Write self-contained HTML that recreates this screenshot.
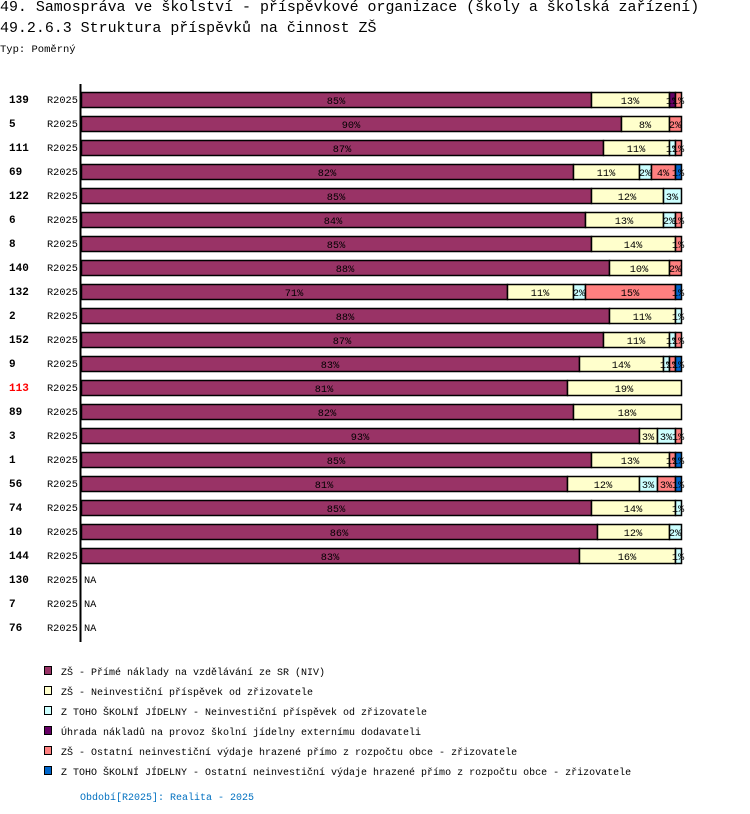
<!DOCTYPE html>
<html><head><meta charset="utf-8"><style>
body{margin:0;background:#fff;width:750px;height:814px;overflow:hidden;font-family:"Liberation Mono",monospace;}
.t{position:absolute;white-space:nowrap;color:#000;}
</style></head><body>
<div class="t" style="left:0;top:0;font-size:14.95px;">49. Samospráva ve školství - příspěvkové organizace (školy a školská zařízení)</div>
<div class="t" style="left:0;top:21px;font-size:14.95px;">49.2.6.3 Struktura příspěvků na činnost ZŠ</div>
<div class="t" style="left:0;top:44px;font-size:10.5px;">Typ: Poměrný</div>
<svg id="chart" width="750" height="814" style="position:absolute;left:0;top:0"></svg>
<script>
const categories=["139","5","111","69","122","6","8","140","132","2","152","9","113","89","3","1","56","74","10","144","130","7","76"];
const highlighted=["113"];
const sNIV=[85,90,87,82,85,84,85,88,71,88,87,83,81,82,93,85,81,85,86,83,null,null,null];
const sZriz=[13,8,11,11,12,13,14,10,11,11,11,14,19,18,3,13,12,14,12,16,null,null,null];
const sJid=[0,0,1,2,3,2,0,0,2,1,1,1,0,0,3,0,3,1,2,1,null,null,null];
const sExt=[1,0,0,0,0,0,0,0,0,0,0,0,0,0,0,0,0,0,0,0,null,null,null];
const sOst=[1,2,1,4,0,1,1,2,15,0,1,1,0,0,1,1,3,0,0,0,null,null,null];
const sJidOst=[0,0,0,1,0,0,0,0,1,0,0,1,0,0,0,1,1,0,0,0,null,null,null];
const series=[sNIV,sZriz,sJid,sExt,sOst,sJidOst];
const colors=["#993366","#ffffcc","#ccffff","#660066","#ff8080","#0066cc"];
const segNames=["seg-niv","seg-zrizovatel","seg-jidelna","seg-externi","seg-ostatni","seg-jidelna-ostatni"];
const legendLabels=["ZŠ - Přímé náklady na vzdělávání ze SR (NIV)","ZŠ - Neinvestiční příspěvek od zřizovatele","Z TOHO ŠKOLNÍ JÍDELNY - Neinvestiční příspěvek od zřizovatele","Úhrada nákladů na provoz školní jídelny externímu dodavateli","ZŠ - Ostatní neinvestiční výdaje hrazené přímo z rozpočtu obce - zřizovatele","Z TOHO ŠKOLNÍ JÍDELNY - Ostatní neinvestiční výdaje hrazené přímo z rozpočtu obce - zřizovatele"];
const svg=document.getElementById('chart');const NS="http://www.w3.org/2000/svg";
const x0=81,pxPer=6,y0=92,pitch=24,bh=15;
const xs=v=>x0+v*pxPer;const ys=i=>y0+i*pitch;
function mk(t,a){const e=document.createElementNS(NS,t);for(const k in a)e.setAttribute(k,a[k]);svg.appendChild(e);return e;}
let ax=mk('line',{x1:80.5,y1:84,x2:80.5,y2:642,stroke:'#000','stroke-width':2});


categories.forEach((c,i)=>{
 const y=ys(i);
 let l=mk('text',{x:9,y:y+11,'font-size':11,'font-weight':'bold','font-family':'Liberation Mono, monospace',fill:highlighted.includes(c)?'#ff0000':'#000'});l.textContent=c;
 
 
 let p=mk('text',{x:47,y:y+11,'font-size':10.3,'font-family':'Liberation Mono, monospace'});p.textContent='R2025';
 
 
 if(sNIV[i]===null){let n=mk('text',{x:84,y:y+11,'font-size':10.3,'font-family':'Liberation Mono, monospace'});n.textContent='NA';
  
  return;}
 let acc=0;
 series.forEach((s,k)=>{const v=s[i];if(!v)return;
  const xa=xs(acc),w=v*pxPer;
  let r=mk('rect',{x:xa+0.5,y:y+0.5,width:w,height:bh,fill:colors[k],stroke:'#000','stroke-width':1.5});
  
  
  let t=mk('text',{x:xa+w/2,y:y+12,'font-size':10.3,'text-anchor':'middle','font-family':'Liberation Mono, monospace',fill:'#000'});t.textContent=v+'%';
  
  
  acc+=v;});
});
legendLabels.forEach((lb,k)=>{const y=666+k*20;
 let r=mk('rect',{x:44.5,y:y+0.5,width:7,height:8,fill:colors[k],stroke:'#000'});
 
 
 let t=mk('text',{x:61,y:y+9,'font-size':10,'font-family':'Liberation Mono, monospace'});t.textContent=lb;
 
 
});
let f=mk('text',{x:80,y:800,'font-size':10,'font-family':'Liberation Mono, monospace',fill:'#0070c0'});f.textContent='Období[R2025]: Realita - 2025';


</script>
</body></html>
